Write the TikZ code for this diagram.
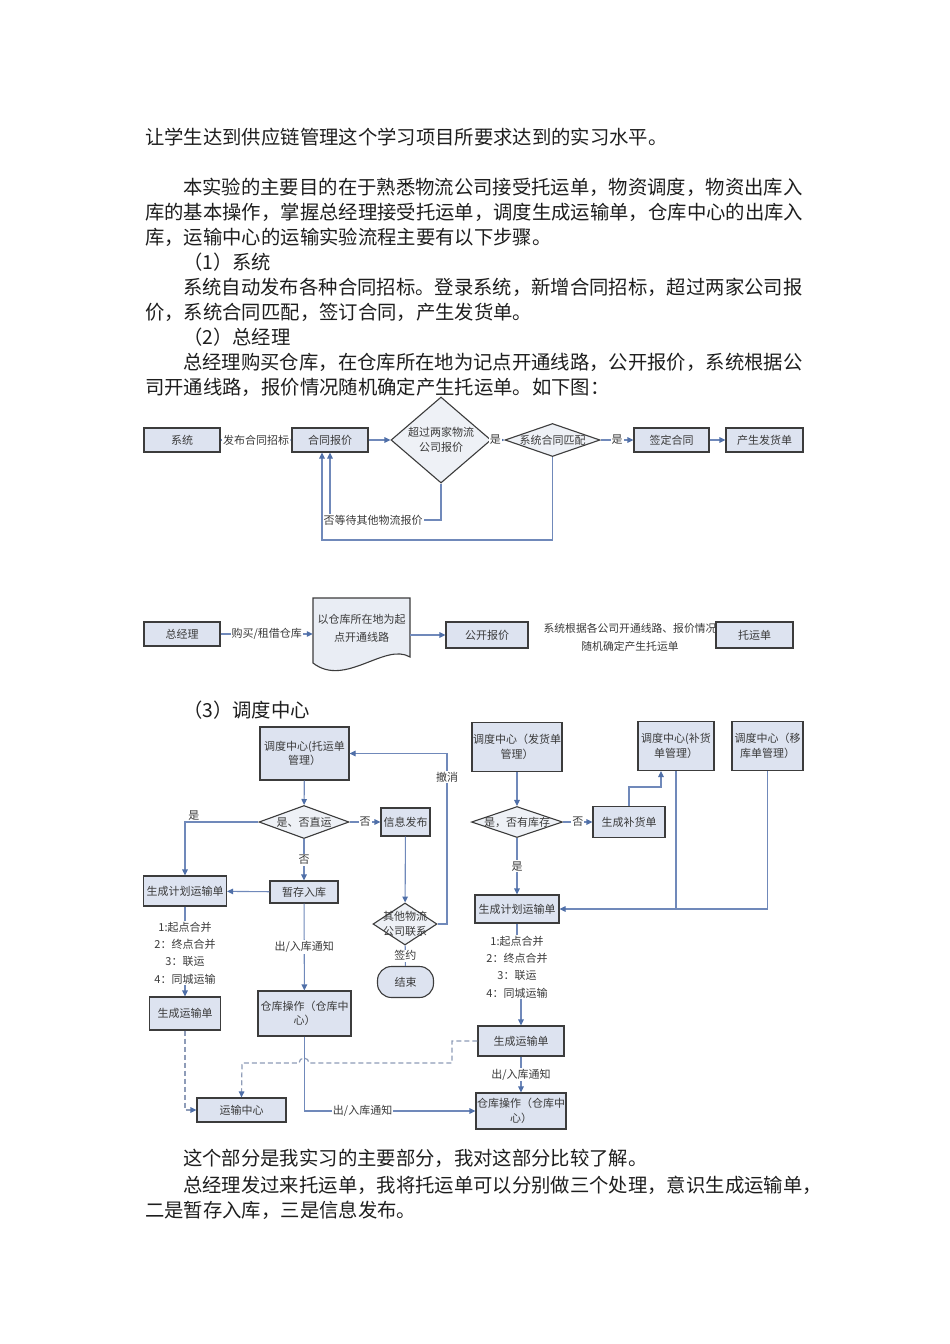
\documentclass[tikz,border=0pt]{standalone}
\usepackage{fontspec}
\setmainfont{Noto Sans CJK SC}
\usetikzlibrary{arrows.meta,shapes.geometric}
\definecolor{BoxFill}{HTML}{DDE3F0}
\definecolor{BoxLine}{HTML}{3C3C3C}
\definecolor{DiaFill}{HTML}{EEF1F6}
\definecolor{DocFill}{HTML}{E9EDF4}
\definecolor{FlowBlue}{HTML}{4F6FA8}
\definecolor{LineBlue}{HTML}{7089BA}
\definecolor{DashGray}{HTML}{8E9CB8}
\definecolor{DiagText}{HTML}{3A3A3A}
\definecolor{BodyText}{HTML}{1E1E1E}

\begin{document}
\begin{tikzpicture}[x=1pt, y=-1pt,
    para/.style={anchor=west, inner sep=0pt, text=BodyText, font=\fontsize{19.35}{25}\selectfont},
    box/.style={draw=BoxLine, fill=BoxFill, line width=1.1pt, align=center, inner sep=1pt,
                text=DiagText, font=\fontsize{11}{14.5}\selectfont},
    choice/.style n args={3}{diamond, draw=BoxLine, fill=DiaFill, line width=1.1pt, inner sep=0pt,
                minimum width=#1, minimum height=#2,
                label={[text=DiagText, align=center, font=\fontsize{11}{14.5}\selectfont]center:#3}},
    note/.style={align=center, inner sep=1pt, text=DiagText, font=\fontsize{11}{17.4}\selectfont},
    elabel/.style={fill=white, inner sep=1pt, text=DiagText, font=\fontsize{11}{13}\selectfont},
    link/.style={draw=LineBlue, line width=1.1pt},
    conn/.style={link, -{Triangle[length=6pt,width=5.5pt,color=FlowBlue]}},
    dconn/.style={draw=DashGray, line width=1.2pt, dash pattern=on 5pt off 3pt,
                  -{Triangle[length=6pt,width=5.5pt,color=FlowBlue]}}
  ]
  \path[use as bounding box, fill=white] (0,0) rectangle (950,1344);

  \foreach \ypos/\xpos/\txt in {
      137/145/让学生达到供应链管理这个学习项目所要求达到的实习水平。,
      187/183/本实验的主要目的在于熟悉物流公司接受托运单，物资调度，物资出库入,
      212/145/库的基本操作，掌握总经理接受托运单，调度生成运输单，仓库中心的出库入,
      237/145/库，运输中心的运输实验流程主要有以下步骤。,
      262/183/（1）系统,
      287/183/系统自动发布各种合同招标。登录系统，新增合同招标，超过两家公司报,
      312/145/价，系统合同匹配，签订合同，产生发货单。,
      337/183/（2）总经理,
      362/183/总经理购买仓库，在仓库所在地为记点开通线路，公开报价，系统根据公,
      387/145/司开通线路，报价情况随机确定产生托运单。如下图：,
      710/183/（3）调度中心,
      1158/183/这个部分是我实习的主要部分，我对这部分比较了解。,
      1185/183/总经理发过来托运单，我将托运单可以分别做三个处理，意识生成运输单，,
      1210/145/二是暂存入库，三是信息发布。}
    \node[para] at (\xpos,\ypos) {\txt};

  % system
  \node[box, minimum width=76, minimum height=24] (sys) at (182,440) {系统};
  \node[box, minimum width=76, minimum height=24] (bid) at (330,440) {合同报价};
  \node[choice={100}{86}{超过两家物流\\公司报价}] (twoco) at (441,440) {};
  \node[choice={95}{33}{系统合同匹配}] (match) at (552.5,440) {};
  \node[box, minimum width=75, minimum height=24] (sign) at (671.5,440) {签定合同};
  \node[box, minimum width=77, minimum height=24] (ship) at (764.5,440) {产生发货单};
  \node[elabel] (wait) at (373,520) {否等待其他物流报价};
  \coordinate (loopend) at (322,540);
  \draw[conn] (sys) -- node[elabel]{发布合同招标} (bid);
  \draw[conn] (bid) -- (twoco);
  \draw[conn] (twoco) -- node[elabel, pos=0.3]{是} (match);
  \draw[conn] (match) -- node[elabel]{是} (sign);
  \draw[conn] (sign) -- (ship);
  \draw[link] (twoco.south) |- (wait.east);
  \draw[conn] (wait.north -| bid) -- (bid.south);
  \draw[conn] (match.south) |- (loopend) -- (loopend |- bid.south);

  % general manager
  \node[box, minimum width=76, minimum height=24] (gm) at (182,634) {总经理};
  \draw[BoxLine, fill=DocFill, line width=1.1pt] (313,598) -- (410,598) -- (410,657)
    .. controls (385,642) and (345,688) .. (313,663) -- cycle;
  \node[note, font=\fontsize{11}{18}\selectfont, minimum width=97, minimum height=60] (route) at (361.5,628) {以仓库所在地为起\\点开通线路};
  \node[box, minimum width=82, minimum height=26] (quote) at (487,635) {公开报价};
  \node[note, font=\fontsize{10.8}{18}\selectfont] (rule) at (630,637) {系统根据各公司开通线路、报价情况\\随机确定产生托运单};
  \node[box, minimum width=77, minimum height=26] (waybill) at (754.5,635) {托运单};
  \draw[conn] (gm.east) -- node[elabel]{购买/租借仓库} (gm.east -| route.west);
  \draw[conn] (route.east |- quote) -- (quote);

  % dispatch centre, left
  \node[box, minimum width=89, minimum height=53] (dispatch) at (304.5,753.5) {调度中心(托运单\\管理）};
  \node[choice={90}{33}{是、否直运}] (direct) at (304,822) {};
  \node[box, minimum width=49, minimum height=28] (publish) at (405.5,822) {信息发布};
  \node[box, minimum width=83, minimum height=30] (plan1) at (185,891) {生成计划运输单};
  \node[box, minimum width=68, minimum height=22] (store) at (304,892) {暂存入库};
  \node[choice={64}{42}{其他物流\\公司联系}] (contact) at (405,924) {};
  \node[box, rounded corners=14pt, minimum width=56, minimum height=31] (finish) at (405.5,982) {结束};
  \node[note] (steps1) at (185,953) {1:起点合并\\2：终点合并\\3：联运\\4：同城运输};
  \node[box, minimum width=71, minimum height=33] (trans1) at (185,1013.5) {生成运输单};
  \node[box, minimum width=93, minimum height=45] (wh1) at (304.5,1013.5) {仓库操作（仓库中\\心）};
  \node[box, minimum width=89, minimum height=24] (tc) at (241.5,1110) {运输中心};
  \coordinate (undo) at (447,753.5);

  % dispatch centre, right
  \node[box, minimum width=85, minimum height=49] (dispatch2) at (517,747) {调度中心（发货单\\管理）};
  \node[choice={91}{31}{是，否有库存}] (stock) at (517,822) {};
  \node[box, minimum width=72, minimum height=31] (refill) at (629,822) {生成补货单};
  \node[box, minimum width=76, minimum height=49] (restock) at (676,746) {调度中心(补货\\单管理）};
  \node[box, minimum width=71, minimum height=49] (move) at (767.5,746) {调度中心（移\\库单管理）};
  \node[box, minimum width=84, minimum height=28] (plan2) at (517,909) {生成计划运输单};
  \node[note] (steps2) at (517,967) {1:起点合并\\2：终点合并\\3：联运\\4：同城运输};
  \node[box, minimum width=86, minimum height=30] (trans2) at (521,1041) {生成运输单};
  \node[box, minimum width=90, minimum height=36] (wh2) at (521,1111) {仓库操作（仓库中\\心）};

  \draw[conn] (dispatch) -- (direct);
  \draw[conn] (direct.west) -| node[pos=0.44, above, note]{是} (plan1.north);
  \draw[conn] (direct) -- node[elabel]{否} (publish);
  \draw[conn] (direct) -- node[elabel]{否} (store);
  \draw[conn] (store) -- (plan1);
  \draw[conn] (publish) -- (contact);
  \draw[conn] (contact.east) -| node[pos=0.93, elabel]{撤消} (undo) -- (dispatch.east);
  \draw[link] (contact) -- node[elabel]{签约} (finish);
  \draw[link] (plan1) -- (steps1);
  \draw[conn] (steps1) -- (trans1);
  \draw[dconn] (trans1.south) |- (tc.west);
  \draw[conn] (store) -- node[elabel]{出/入库通知} (wh1);
  \draw[conn] (wh1.south) |- node[pos=0.67, elabel]{出/入库通知} (wh2.west);
  \draw[dconn] (trans2.west) -- (452,1041) -- (452,1063) -- (309,1063)
    arc[start angle=0, end angle=-180, radius=5] -- (242,1063) -- (tc.north);

  \draw[conn] (dispatch2) -- (stock);
  \draw[conn] (stock) -- node[elabel]{否} (refill);
  \draw[conn] (refill.north) -- ++(0,-19) -| ([xshift=-15pt]restock.south);
  \draw[link] (restock.south) -- (restock.south |- plan2.east);
  \draw[conn] (move.south) |- (plan2.east);
  \draw[conn] (stock) -- node[elabel]{是} (plan2);
  \draw[link] (plan2) -- (steps2);
  \draw[conn] (steps2.south -| trans2) -- (trans2);
  \draw[conn] (trans2) -- node[elabel]{出/入库通知} (wh2);
\end{tikzpicture}
\end{document}
